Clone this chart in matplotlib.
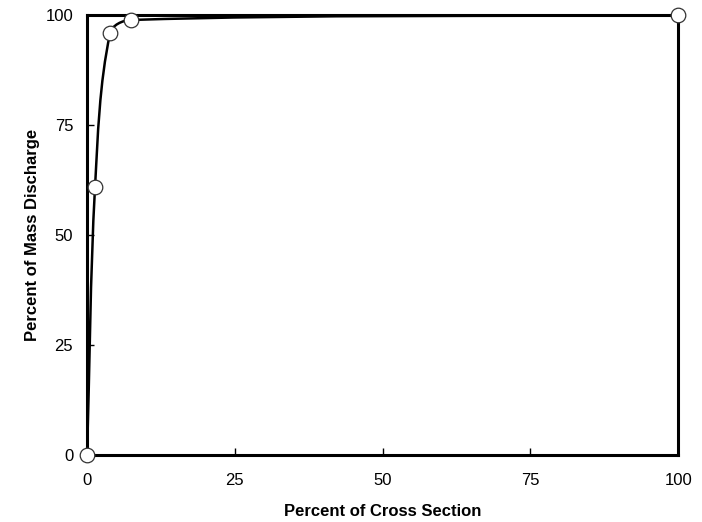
import numpy as np
import matplotlib
matplotlib.use('Agg')
import matplotlib.pyplot as plt
from matplotlib.path import Path
from matplotlib.patches import PathPatch

plt.rcParams['font.family'] = ['Liberation Sans', 'DejaVu Sans']

# Data
cross_section = [0, 1.35, 3.9, 7.4, 100]
mass_discharge = [0, 60.9, 95.9, 98.9, 100]
ticks = [0, 25, 50, 75, 100]

fig = plt.figure(figsize=(7.02, 5.22), dpi=100)
ax = fig.add_axes([0.124, 0.128, 0.842, 0.843])

# Smoothed line: Bezier through the points, tangents worked out in screen-like units
sx, sy = 5.91, 4.40
P = np.column_stack([np.array(cross_section) * sx, np.array(mass_discharge) * sy])
n = len(P)
tang = []
for i in range(n):
    d = P[min(i + 1, n - 1)] - P[max(i - 1, 0)]
    tang.append(d / np.hypot(*d))
verts = [P[0]]
codes = [Path.MOVETO]
for i in range(n - 1):
    L = np.hypot(*(P[i + 1] - P[i])) / 3
    verts += [P[i] + tang[i] * L, P[i + 1] - tang[i + 1] * L, P[i + 1]]
    codes += [Path.CURVE4] * 3
verts = np.array(verts) / [sx, sy]
ax.add_patch(PathPatch(Path(verts, codes), facecolor='none', edgecolor='black', lw=1.8, zorder=2))

ax.plot(cross_section, mass_discharge, linestyle='none', marker='o', markersize=10.5,
        markerfacecolor='white', markeredgecolor='#333333', markeredgewidth=0.9,
        clip_on=False, zorder=4)

ax.set_xlim(0, 100)
ax.set_ylim(0, 100)
ax.set_xticks(ticks)
ax.set_yticks(ticks)
ax.tick_params(direction='in', length=5, width=1, labelsize=12)
ax.tick_params(axis='y', pad=10)
ax.tick_params(axis='x', pad=13)
for s in ax.spines.values():
    s.set_linewidth(2.2)

ax.set_xlabel('Percent of Cross Section', fontsize=12, fontweight='bold', labelpad=11)
ax.set_ylabel('Percent of Mass Discharge', fontsize=12, fontweight='bold', labelpad=4)

fig.savefig('out.png', dpi=100)
